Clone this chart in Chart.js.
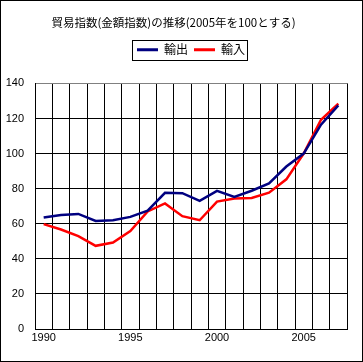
<!DOCTYPE html>
<html>
<head>
<meta charset="utf-8">
<script src="https://cdn.jsdelivr.net/npm/chart.js@4/dist/chart.umd.min.js"></script>
<style>
html,body{margin:0;padding:0;background:#fff;}
#wrap{width:363px;height:362px;position:relative;}
</style>
</head>
<body>
<div id="wrap"><canvas id="c" width="363" height="362"></canvas></div>
<script>
const years = ['1990','1991','1992','1993','1994','1995','1996','1997','1998','1999','2000','2001','2002','2003','2004','2005','2006','2007'];
const exportsIdx = [63.5, 65, 65.6, 61.6, 62, 63.9, 67.5, 77.6, 77.4, 73, 78.7, 75.3, 78.8, 83, 92.6, 100, 116.5, 127.5];
const importsIdx = [59.8, 56.7, 52.9, 47.4, 49.3, 55.8, 67, 71.6, 64.3, 62, 72.6, 74.4, 74.7, 77.7, 85.3, 100, 119.3, 128.5];
const yTicks = [0, 20, 40, 60, 80, 100, 120, 140];
const titleText = '貿易指数(金額指数)の推移(2005年を100とする)';
const seriesNames = ['輸出', '輸入'];

const LEG_FONT = { family: '"Noto Sans CJK JP", sans-serif', size: 12 };
const LEG_BOXW = 21;
const LEG_PAD = 6;

const frame = {
  id: 'frame',
  afterDraw(chart) {
    const ctx = chart.ctx;
    ctx.save();
    ctx.strokeStyle = '#000';
    ctx.lineWidth = 1;
    ctx.strokeRect(0.5, 0.5, chart.width - 1, chart.height - 1);
    try {
      const lg = chart.legend;
      const items = lg.legendItems || [];
      ctx.font = Chart.helpers.toFont(LEG_FONT).string;
      let total = 0;
      items.forEach((it, i) => {
        total += LEG_BOXW + LEG_FONT.size / 2 + ctx.measureText(it.text).width;
        if (i < items.length - 1) total += LEG_PAD;
      });
      const cx = (lg.left + lg.right) / 2;
      const l = cx - total / 2;
      const t = lg.top + LEG_PAD;
      ctx.strokeRect(Math.round(l - 5) + 0.5, Math.round(t - 4) + 0.5, Math.round(total + 7), Math.round(LEG_FONT.size + 8));
    } catch (e) {}
    ctx.restore();
  }
};

new Chart(document.getElementById('c'), {
  type: 'line',
  data: {
    labels: years,
    datasets: [
      { label: seriesNames[0], data: exportsIdx, borderColor: '#000080', backgroundColor: '#000080', borderWidth: 2.5, pointRadius: 0, tension: 0 },
      { label: seriesNames[1], data: importsIdx, borderColor: '#ff0000', backgroundColor: '#ff0000', borderWidth: 2.5, pointRadius: 0, tension: 0 }
    ]
  },
  options: {
    responsive: false,
    animation: false,
    layout: { padding: { top: 0, right: 16, bottom: 0, left: 0 } },
    plugins: {
      title: {
        display: true,
        text: titleText,
        color: '#000',
        font: { family: '"Noto Sans CJK JP", sans-serif', size: 11.5, weight: 'normal', lineHeight: 1.2 },
        padding: { top: 16, bottom: 8 }
      },
      legend: {
        display: true,
        fullSize: false,
        labels: {
          color: '#000',
          font: LEG_FONT,
          boxWidth: LEG_BOXW,
          boxHeight: 3,
          padding: LEG_PAD,
          generateLabels: (chart) => Chart.defaults.plugins.legend.labels.generateLabels(chart).map(it => Object.assign(it, { lineWidth: 0 }))
        }
      },
      tooltip: { enabled: false }
    },
    scales: {
      x: {
        type: 'category',
        offset: true,
        grid: {
          offset: true,
          drawTicks: false,
          lineWidth: 1,
          color: (c) => (c.index === years.length ? '#808080' : '#000')
        },
        border: { display: true, color: '#000', width: 1 },
        ticks: {
          autoSkip: false,
          maxRotation: 0,
          minRotation: 0,
          padding: 2,
          color: '#000',
          font: { family: '"Liberation Sans", Arial, sans-serif', size: 11 },
          callback: function (v, i) { const y = years[i]; return (+y) % 5 === 0 ? y : ''; }
        },
        afterFit: (s) => { s.height = 33; }
      },
      xSpacer: {
        type: 'category',
        position: 'top',
        display: true,
        grid: { display: false, drawTicks: false },
        border: { display: false },
        ticks: { display: false },
        afterFit: (s) => { s.height = 17.6; }
      },
      y: {
        min: 0,
        max: 140,
        afterBuildTicks: (s) => { s.ticks = yTicks.map(v => ({ value: v })); },
        grid: {
          drawTicks: false,
          lineWidth: 1,
          color: (c) => (c.tick && c.tick.value === 140 ? '#808080' : '#000')
        },
        border: { display: true, color: '#000', width: 1 },
        ticks: {
          padding: 11,
          color: '#000',
          font: { family: '"Liberation Sans", Arial, sans-serif', size: 11 }
        },
        afterFit: (s) => { s.width = 35; }
      }
    }
  },
  plugins: [frame]
});
</script>
</body>
</html>
